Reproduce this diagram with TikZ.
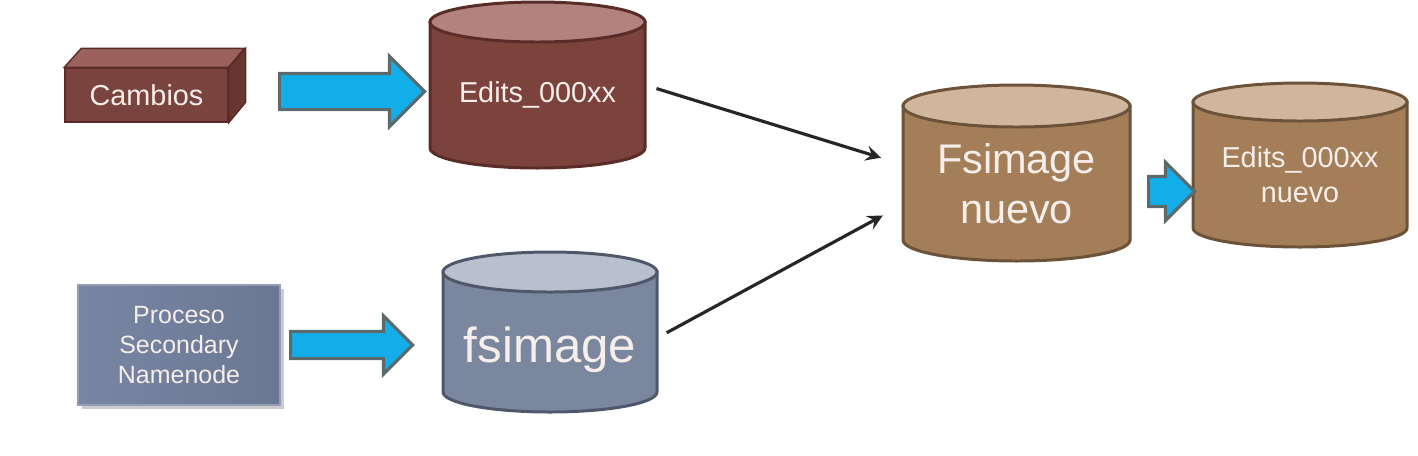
\documentclass[tikz,border=0pt]{standalone}
\usepackage{fontspec}
\setmainfont{Liberation Sans}
\usetikzlibrary{shapes.arrows,shadows}

\definecolor{cambiosfront}{HTML}{7B433D}
\definecolor{cambiostop}{HTML}{9A625B}
\definecolor{cambiosside}{HTML}{683530}
\definecolor{editsbody}{HTML}{7B433C}
\definecolor{editstop}{HTML}{B2837E}
\definecolor{editsline}{HTML}{5A2C27}
\definecolor{fsbody}{HTML}{7B879E}
\definecolor{fstop}{HTML}{B8C0CD}
\definecolor{fsline}{HTML}{4E586A}
\definecolor{nuevobody}{HTML}{A47E59}
\definecolor{nuevotop}{HTML}{CFB69C}
\definecolor{nuevoline}{HTML}{6B5238}
\definecolor{procleft}{HTML}{7886A3}
\definecolor{procright}{HTML}{6A7894}
\definecolor{arrowblue}{HTML}{12AEEA}
\definecolor{arrowedge}{HTML}{5C6A6C}
\definecolor{labelwhite}{HTML}{F6EEEA}

% cylinder: name, centre, half width, half body height, end radius, colour prefix, label options, text
\newcommand{\dbcyl}[8]{%
  \begin{scope}[shift={#2}]
    \filldraw[fill=#6body, draw=#6line, line width=0.85pt]
      (-#3,#4) -- (-#3,-#4) arc[start angle=180, end angle=360, x radius=#3, y radius=#5] -- (#3,#4) -- cycle;
    \filldraw[fill=#6top, draw=#6line, line width=0.85pt] (0,#4) ellipse[x radius=#3, y radius=#5];
    \node[text=labelwhite, align=center, #7] (#1-text) at (0,-#5/2) {#8};
  \end{scope}
  \node[inner sep=0pt, outer sep=0pt, minimum width=2*#3cm, minimum height=2*#4cm+2*#5cm] (#1) at #2 {};
}

\begin{document}
\begin{tikzpicture}[>=stealth,
  bigarrow/.style={single arrow, fill=arrowblue, draw=arrowedge, line width=0.9pt, inner xsep=0pt, anchor=tail},
  link/.style={->, line width=0.9pt, black!85}]
  \useasboundingbox (0,0) rectangle (14.18,4.55);

  % changes block
  \node[fill=cambiosfront, draw=editsline, line width=0.4pt, minimum width=1.63cm, minimum height=0.54cm,
        text=labelwhite, font=\fontsize{8.2}{10}\selectfont] (cambios) at (1.465,3.60) {Cambios};
  \filldraw[fill=cambiostop, draw=editsline, line width=0.4pt]
    (cambios.north west) -- ++(0.17,0.19) -- ++(1.63,0) -- (cambios.north east) -- cycle;
  \filldraw[fill=cambiosside, draw=editsline, line width=0.4pt]
    (cambios.north east) -- ++(0.17,0.19) -- ++(0,-0.54) -- (cambios.south east) -- cycle;

  % secondary namenode process
  \node[left color=procleft, right color=procright, draw=procleft!80!white, line width=0.4pt,
        drop shadow={shadow xshift=0.04cm, shadow yshift=-0.04cm, fill=black!40, opacity=0.5},
        minimum width=2.02cm, minimum height=1.20cm, align=center, text=labelwhite,
        font=\fontsize{7.1}{8.5}\selectfont] (proceso) at (1.79,1.10) {Proceso\\Secondary\\Namenode};

  % data stores
  \dbcyl{edits}{(5.375,3.70)}{1.075}{0.63}{0.20}{edits}{font=\fontsize{8.2}{10}\selectfont}{Edits\_000xx}
  \dbcyl{fsimg}{(5.50,1.23)}{1.07}{0.60}{0.20}{fs}{font=\fontsize{14}{16}\selectfont, yshift=-0.08cm}{fsimage}
  \dbcyl{fsnew}{(10.165,2.82)}{1.135}{0.67}{0.21}{nuevo}{font=\fontsize{11.8}{14.2}\selectfont}{Fsimage\\nuevo}
  \dbcyl{editsnew}{(13.00,2.90)}{1.07}{0.63}{0.19}{nuevo}{font=\fontsize{8.2}{10}\selectfont}{Edits\_000xx\\nuevo}

  % block arrows
  \node[bigarrow, minimum height=1.45cm, inner ysep=0.165cm, single arrow head extend=0.17cm] (arrowa) at (2.78,3.635) {};
  \node[bigarrow, minimum height=1.22cm, inner ysep=0.12cm, single arrow head extend=0.155cm] (arrowb) at (2.89,1.10) {};
  \node[bigarrow, minimum height=0.46cm, inner ysep=0.135cm, single arrow head extend=0.14cm] (arrowc) at (11.47,2.635) {};

  % merge into the new image
  \draw[link, shorten <=0.12cm, shorten >=0.23cm] (edits.east) -- ([yshift=0.085cm]fsnew.west);
  \draw[link, shorten <=0.11cm, shorten >=0.23cm] ([yshift=-0.06cm]fsimg.east) -- ([yshift=-0.315cm]fsnew.west);

\end{tikzpicture}
\end{document}
